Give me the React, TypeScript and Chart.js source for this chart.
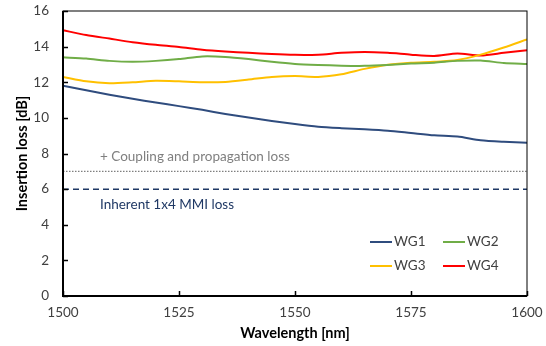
import React, { useEffect, useRef } from "react";
import { Chart, registerables } from "chart.js";

Chart.register(...registerables);

const wavelengths = [1500, 1505, 1510, 1515, 1520, 1525, 1530, 1535, 1540, 1545, 1550, 1555, 1560, 1565, 1570, 1575, 1580, 1585, 1590, 1595, 1600];
const wg1 = [11.8, 11.55, 11.3, 11.07, 10.86, 10.66, 10.45, 10.22, 10.02, 9.83, 9.65, 9.5, 9.42, 9.36, 9.28, 9.15, 9.02, 8.95, 8.75, 8.66, 8.6];
const wg2 = [13.4, 13.33, 13.2, 13.15, 13.2, 13.3, 13.45, 13.42, 13.3, 13.15, 13.03, 12.97, 12.93, 12.92, 12.97, 13.05, 13.1, 13.2, 13.22, 13.08, 13.03];
const wg3 = [12.3, 12.05, 11.95, 12.0, 12.08, 12.05, 12.0, 12.02, 12.15, 12.3, 12.35, 12.3, 12.45, 12.75, 12.98, 13.1, 13.15, 13.25, 13.55, 13.95, 14.4];
const wg4 = [14.92, 14.65, 14.45, 14.25, 14.1, 13.98, 13.82, 13.72, 13.65, 13.58, 13.54, 13.55, 13.65, 13.7, 13.65, 13.55, 13.48, 13.62, 13.5, 13.65, 13.8];
const seriesNames = ["WG1", "WG2", "WG3", "WG4"];
const seriesColors = ["#2F4C7E", "#70AD47", "#FFC000", "#FF0000"];
const mmiLoss = 6;
const couplingLoss = 7;
const mmiLabel = "Inherent 1x4 MMI loss";
const couplingLabel = "+ Coupling and propagation loss";
const xTicks = [1500, 1525, 1550, 1575, 1600];
const yTicks = [0, 2, 4, 6, 8, 10, 12, 14, 16];

const FONT = "Lato, 'Open Sans', sans-serif";

const overlayPlugin = {
  id: "overlay",
  afterDraw(chart: any) {
    const { ctx, chartArea: ca, scales } = chart;
    const x = scales.x, y = scales.y;
    ctx.save();
    // reference lines
    ctx.lineWidth = 1.3;
    ctx.strokeStyle = "#7F7F7F";
    ctx.setLineDash([1.5, 1.5]);
    ctx.beginPath();
    ctx.moveTo(ca.left, y.getPixelForValue(couplingLoss));
    ctx.lineTo(ca.right, y.getPixelForValue(couplingLoss));
    ctx.stroke();
    ctx.lineWidth = 1.5;
    ctx.strokeStyle = "#1F3864";
    ctx.setLineDash([6, 4]);
    ctx.beginPath();
    ctx.moveTo(ca.left, y.getPixelForValue(mmiLoss));
    ctx.lineTo(ca.right, y.getPixelForValue(mmiLoss));
    ctx.stroke();
    ctx.setLineDash([]);
    // labels
    ctx.font = "13.5px " + FONT;
    ctx.textBaseline = "middle";
    ctx.textAlign = "left";
    ctx.fillStyle = "#7F7F7F";
    ctx.fillText(couplingLabel, ca.left + 37, y.getPixelForValue(couplingLoss) - 15);
    ctx.fillStyle = "#1F3864";
    ctx.fillText(mmiLabel, ca.left + 37, y.getPixelForValue(mmiLoss) + 16);
    // border
    ctx.strokeStyle = "#000";
    ctx.lineWidth = 1;
    ctx.strokeRect(ca.left, ca.top, ca.right - ca.left, ca.bottom - ca.top);
    ctx.lineWidth = 2;
    ctx.beginPath();
    ctx.moveTo(ca.left, ca.top);
    ctx.lineTo(ca.left, ca.bottom);
    ctx.lineTo(ca.right, ca.bottom);
    ctx.stroke();
    // inside ticks
    ctx.lineWidth = 1.5;
    ctx.beginPath();
    for (const t of yTicks) {
      const py = Math.round(y.getPixelForValue(t)) + 0.5;
      ctx.moveTo(ca.left, py);
      ctx.lineTo(ca.left + 5, py);
    }
    for (const t of xTicks) {
      const px = Math.round(x.getPixelForValue(t)) + 0.5;
      ctx.moveTo(px, ca.bottom);
      ctx.lineTo(px, ca.bottom - 5);
    }
    ctx.stroke();
    // legend
    ctx.font = "13.5px " + FONT;
    ctx.fillStyle = "#404040";
    const lx = [ca.right - 157, ca.right - 84];
    const ly = [ca.bottom - 54, ca.bottom - 30];
    seriesNames.forEach((n, i) => {
      const cx = lx[i % 2], cy = ly[Math.floor(i / 2)];
      ctx.strokeStyle = seriesColors[i];
      ctx.lineWidth = 2;
      ctx.beginPath();
      ctx.moveTo(cx, cy);
      ctx.lineTo(cx + 22, cy);
      ctx.stroke();
      ctx.fillText(n, cx + 24, cy);
    });
    ctx.restore();
  },
};

export default function App() {
  const ref = useRef<HTMLCanvasElement>(null);
  useEffect(() => {
    document.body.style.margin = "0";
    const vals = [wg1, wg2, wg3, wg4];
    const chart = new Chart(ref.current!, {
      type: "line",
      data: {
        datasets: seriesNames.map((n, i) => ({
          label: n,
          data: wavelengths.map((w, k) => ({ x: w, y: vals[i][k] })),
          borderColor: seriesColors[i],
          borderWidth: 2,
          pointRadius: 0,
          tension: 0.25,
        })),
      },
      options: {
        animation: false,
        responsive: false,
        layout: { padding: { left: 0, right: 19, top: 11, bottom: 0 } },
        plugins: { legend: { display: false }, tooltip: { enabled: false } },
        scales: {
          x: {
            type: "linear",
            min: 1500,
            max: 1600,
            afterBuildTicks: (s: any) => { s.ticks = xTicks.map((v) => ({ value: v })); },
            ticks: { color: "#404040", font: { family: FONT, size: 13.5 }, padding: 9, maxRotation: 0, callback: (v: any) => String(v) },
            grid: { display: false, drawTicks: false },
            border: { display: false },
            title: { display: true, text: "Wavelength [nm]", color: "#000", font: { family: FONT, size: 14.5, weight: "bold" }, padding: { top: 2, bottom: 4 } },
            afterFit: (s: any) => { s.height = 50; s.paddingLeft = 0; s.paddingRight = 0; },
          },
          y: {
            min: 0,
            max: 16,
            afterBuildTicks: (s: any) => { s.ticks = yTicks.map((v) => ({ value: v })); },
            ticks: { color: "#404040", font: { family: FONT, size: 13.5 }, padding: 14, callback: (v: any) => String(v) },
            grid: { display: false, drawTicks: false },
            border: { display: false },
            title: { display: true, text: "Insertion loss [dB]", color: "#000", font: { family: FONT, size: 14.5, weight: "bold" }, padding: { top: 14, bottom: 0 } },
            afterFit: (s: any) => { s.width = 63; s.paddingTop = 0; s.paddingBottom = 0; },
          },
        },
      },
      plugins: [overlayPlugin],
    });
    return () => chart.destroy();
  }, []);
  return (
    <div style={{ width: 546, height: 346, background: "#fff" }}>
      <canvas ref={ref} width={546} height={346} />
    </div>
  );
}
